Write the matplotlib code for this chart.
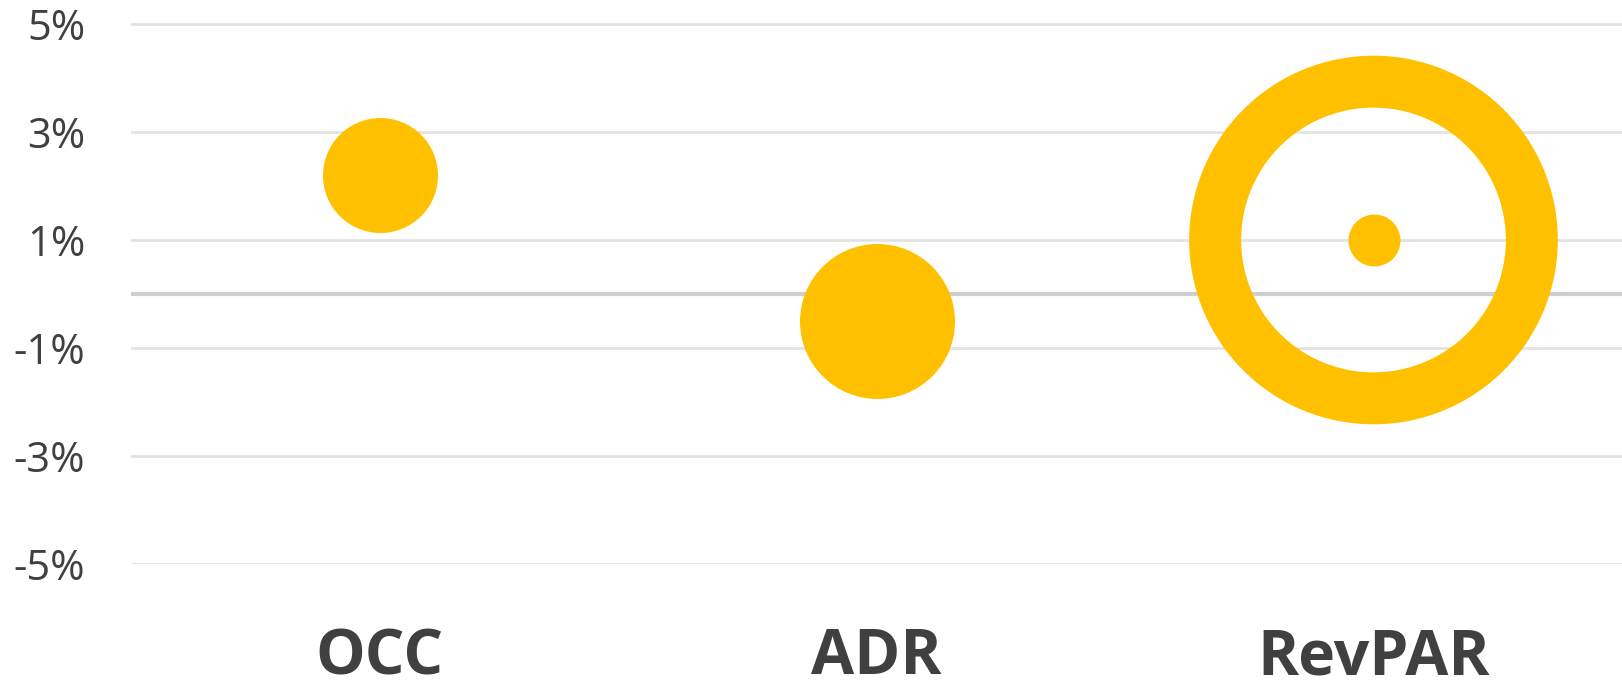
import matplotlib
matplotlib.use("Agg")
import matplotlib.pyplot as plt
from matplotlib.ticker import FuncFormatter

# year-over-year change, percent
categories = ["OCC", "ADR", "RevPAR"]
changes = [2.2, -0.5, 1.0]
highlight = "RevPAR"   # ring drawn round this one
yticks = [-5, -3, -1, 1, 3, 5]

gold = "#FFC000"
grid_col = "#E3E3E3"
text_col = "#404040"

W, H, DPI = 1622, 690, 100
fig = plt.figure(figsize=(W / DPI, H / DPI), dpi=DPI)
# axes: left edge at the gridline start, bottom on the -5% line
ax = fig.add_axes([131 / W, (H - 564) / H, 1 - 131 / W, 564 / H])

x = list(range(len(categories)))
ax.set_xlim(-0.5, len(categories) - 0.5)
ax.set_ylim(-5, 5 + 24 / 54)

for t in yticks:
    ax.axhline(t, color=grid_col, lw=2, zorder=0)
ax.axhline(0, color="#CFCFCF", lw=3, zorder=0)

# marker diameters in points (bubble look)
diam = {"OCC": 82.8, "ADR": 111.6, "RevPAR": 37.4}
for xi, cat, val in zip(x, categories, changes):
    ax.scatter(xi, val, s=diam[cat] ** 2, color=gold, lw=0, zorder=3, clip_on=False)
    if cat == highlight:
        ax.scatter(xi, val, s=228 ** 2, facecolors="none", edgecolors=gold,
                   linewidths=37.4, zorder=3, clip_on=False)

for s in ax.spines.values():
    s.set_visible(False)

ax.set_yticks(yticks)
ax.yaxis.set_major_formatter(FuncFormatter(lambda v, p: f"{v:.0f}%"))
ax.tick_params(axis="y", length=0, pad=33, labelsize=30, labelcolor=text_col)
ax.set_xticks(x)
ax.set_xticklabels(categories)
ax.tick_params(axis="x", length=0, pad=45, labelsize=45, labelcolor=text_col)
for lab in ax.get_yticklabels():
    lab.set_fontfamily("Open Sans")
for lab in ax.get_xticklabels():
    lab.set_fontfamily("Open Sans")
    lab.set_fontweight("bold")

fig.savefig("out.png", dpi=DPI)
